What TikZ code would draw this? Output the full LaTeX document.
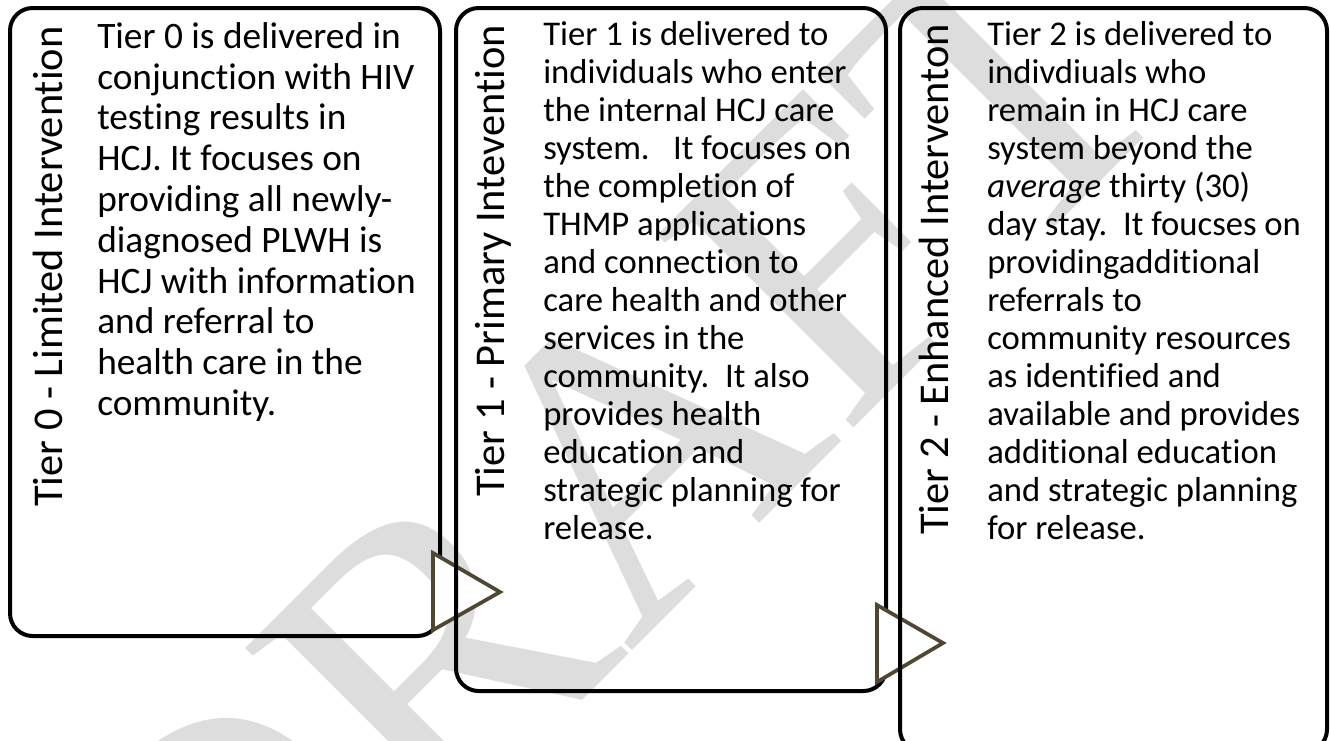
\documentclass[tikz,border=0pt]{standalone}
\usepackage{fontspec}
\setmainfont{Carlito}[Ligatures={NoCommon,NoContextual}]
\newfontfamily\wmfont{Liberation Serif}
\definecolor{wmgray}{RGB}{221,221,221}
\definecolor{tricol}{RGB}{79,71,50}
\begin{document}
\begin{tikzpicture}[x=0.75pt,y=-0.75pt,
  tierbox/.style={draw=black, line width=3pt, rounded corners=17pt, outer sep=0pt, inner sep=0pt, anchor=north west},
  arrowtri/.style={draw=tricol, fill=white, line width=2.8pt},
  tierlabel/.style={rotate=90, anchor=base west, inner sep=0pt, font=\fontsize{31.8}{36}\selectfont},
  bodybig/.style={anchor=north west, align=left, inner sep=0pt, font=\fontsize{28}{30.6}\selectfont},
  bodysmall/.style={anchor=north west, align=left, inner sep=0pt, font=\fontsize{26}{28.5}\selectfont},
  wmtext/.style={rotate=45, inner sep=0pt, text=wmgray, font=\wmfont\fontsize{315}{315}\selectfont}]
\useasboundingbox (0,0) rectangle (1330,740);
\clip (0,0) rectangle (1330,740);
\node[wmtext] (wm) at (606,481) {DRAFT};
% box 1
\node[tierbox, minimum width=322.5pt, minimum height=471pt] (b1) at (10,8) {};
\draw[arrowtri] (433,553) -- (500,592) -- (433,630) -- cycle;
% box 2
\node[tierbox, minimum width=322.5pt, minimum height=512.25pt] (b2) at (456,8) {};
\draw[arrowtri] (877,605) -- (943,643) -- (877,682) -- cycle;
% box 3
\node[tierbox, minimum width=320.25pt, minimum height=558pt] (b3) at (900,8) {};
% labels
\node[tierlabel] (l1) at (62,507) {Tier 0 - Limited Intervention};
\node[tierlabel] (l2) at (504,497) {Tier 1 - Primary Intevention};
\node[tierlabel] (l3) at (948,535) {Tier 2 - Enhanced Interventon};
% body texts
\node[bodybig] (t1) at (97,10.7) {\rule{0pt}{1em}Tier 0 is delivered in\\
conjunction with HIV\\
testing results in\\
HCJ. It focuses on\\
providing all newly-\\
diagnosed PLWH is\\
HCJ with information\\
and referral to\\
health care in the\\
community.};
\node[bodysmall] (t2) at (543,10.3) {\rule{0pt}{1em}Tier 1 is delivered to\\
individuals who enter\\
the internal HCJ care\\
system.\ \ \ It focuses on\\
the completion of\\
THMP applications\\
and connection to\\
care health and other\\
services in the\\
community.\ \ It also\\
provides health\\
education and\\
strategic planning for\\
release.};
\node[bodysmall] (t3) at (987,10.3) {\rule{0pt}{1em}Tier 2 is delivered to\\
indivdiuals who\\
remain in HCJ care\\
system beyond the\\
\textit{average} thirty (30)\\
day stay.\ \ It foucses on\\
providingadditional\\
referrals to\\
community resources\\
as identified and\\
available and provides\\
additional education\\
and strategic planning\\
for release.};
\end{tikzpicture}
\end{document}
